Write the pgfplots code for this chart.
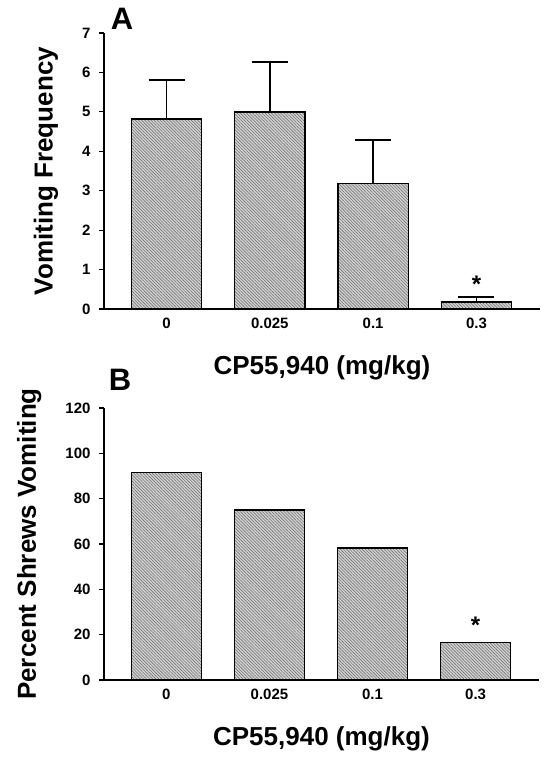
\documentclass[border=0pt]{standalone}
\usepackage{fontspec}
\setmainfont{Liberation Sans}
\usepackage{pgfplots}
\pgfplotsset{compat=1.18}
\usetikzlibrary{patterns.meta}

\pgfplotsset{
  panel/.style={
    scale only axis, width=436pt,
    axis lines*=left, axis line style={line width=1.5pt, black},
    xmin=-0.605, xmax=3.615, xtick={0,1,2,3}, xticklabels={0,0.025,0.1,0.3},
    xtick style={draw=none},
    tick align=outside, major tick length=5pt, ytick style={line width=1.2pt, black},
    ymin=0,
    ticklabel style={font=\bfseries\fontsize{15}{15}\selectfont},
    yticklabel style={xshift=-5pt},
    /pgf/number format/assume math mode=true,
    xlabel={CP55,940 (mg/kg)},
    label style={font=\bfseries\fontsize{26}{26}\selectfont},
    xlabel style={at={(axis description cs:0.5,0)}, anchor=center, yshift=-59pt},
    clip=false,
  },
  barsty/.style={ybar, bar width=0.68, bar shift=0pt, draw=black, line width=1.3pt, fill=gray!35,
    postaction={pattern={Lines[angle=-45,distance=2.2pt,line width=0.6pt]}, pattern color=black!55}},
}

\begin{document}
\begin{tikzpicture}
\path[use as bounding box] (0,0) rectangle (557pt,-772pt);

% Panel A
\begin{axis}[panel, at={(104pt,-309pt)}, anchor=south west, height=276pt,
  ymax=7, ytick={0,1,...,7},
  ylabel={Vomiting Frequency},
  ylabel style={at={(axis description cs:-0.133,0.5)}, anchor=center}]
\addplot[barsty] coordinates {(0,4.82) (1,5.0) (2,3.18) (3,0.18)};
\addplot[draw=none, mark=none, error bars/.cd, y dir=plus, y explicit,
  error mark=|, error mark options={draw=black, mark size=18pt, line width=1.5pt},
  error bar style={draw=black, line width=1.5pt}]
  coordinates {(0,4.82) +- (0,0.99) (1,5.0) +- (0,1.26) (2,3.18) +- (0,1.11) (3,0.18) +- (0,0.12)};
\node[font=\bfseries\fontsize{24}{24}\selectfont] at (axis cs:3,0.62) {*};
\end{axis}
\node[font=\bfseries\fontsize{31}{31}\selectfont] at (122pt,-19pt) {A};

% Panel B
\begin{axis}[panel, at={(104pt,-680pt)}, anchor=south west, height=272pt, width=435pt,
  ymax=120, ytick={0,20,...,120},
  ylabel={Percent Shrews Vomiting},
  ylabel style={at={(axis description cs:-0.172,0.5)}, anchor=center}]
\addplot[barsty] coordinates {(0,91.7) (1,75.0) (2,58.3) (3,16.7)};
\node[font=\bfseries\fontsize{24}{24}\selectfont] at (axis cs:3,24) {*};
\end{axis}
\node[font=\bfseries\fontsize{31}{31}\selectfont] at (120pt,-380pt) {B};
\end{tikzpicture}
\end{document}
